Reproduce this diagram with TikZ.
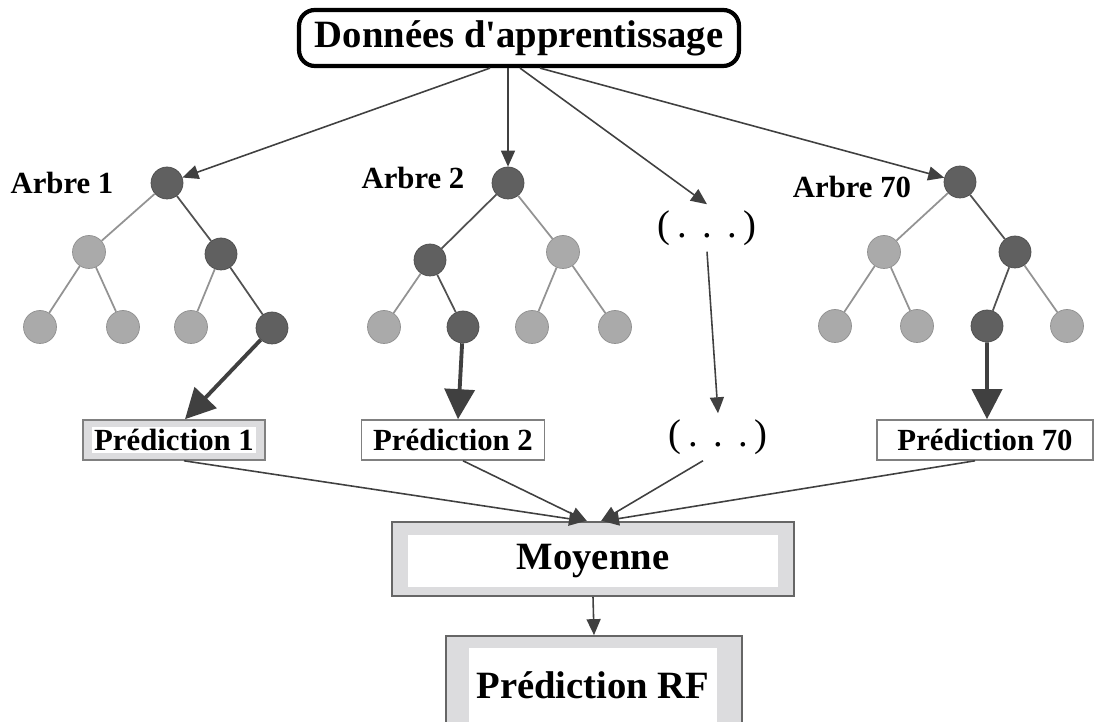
\documentclass[tikz,border=0pt]{standalone}
\usepackage{fontspec}
\setmainfont{Liberation Serif}
\usetikzlibrary{arrows.meta, positioning, calc}
\definecolor{nodedark}{RGB}{96,96,96}
\definecolor{nodelight}{RGB}{170,170,170}
\definecolor{arrowgray}{RGB}{64,64,64}
\definecolor{boxgray}{RGB}{220,220,222}
\tikzset{
    % Training data
    databox/.style={rectangle, rounded corners=9pt, draw=black, line width=2.4pt, fill=white,
                minimum width=8.8cm, minimum height=1.12cm, inner sep=1pt,
                font=\fontsize{22}{26}\selectfont\bfseries},
    % Trees
    dnode/.style={circle, draw=nodedark!80!black, fill=nodedark, minimum size=0.64cm, inner sep=0pt},
    lnode/.style={circle, draw=nodelight!85!black, fill=nodelight, minimum size=0.66cm, inner sep=0pt},
    dedge/.style={draw=nodedark!85!black, line width=1pt},
    ledge/.style={draw=gray!85, line width=1pt},
    tlabel/.style={font=\fontsize{17.5}{20}\selectfont\bfseries},
    % Predictions
    predbox/.style={rectangle, draw=gray, line width=0.9pt, fill=#1,
                minimum height=0.8cm, inner sep=1pt, font=\fontsize{17.5}{20}\selectfont\bfseries},
    dotlbl/.style={font=\fontsize{22}{26}\selectfont},
    % Aggregation
    outbox/.style={rectangle, draw=gray!80!black, line width=1pt, fill=boxgray},
    inbox/.style={rectangle, fill=white, inner sep=0pt, font=\fontsize{22}{26}\selectfont\bfseries},
    % Arrows
    tarrow/.style={-{Triangle[length=3.2mm, width=2.8mm]}, arrowgray, line width=0.9pt},
    barrow/.style={-{Triangle[length=6mm, width=6mm]}, arrowgray, line width=2.2pt},
}

\begin{document}
\begin{tikzpicture}[x=0.02cm, y=-0.02cm]
\useasboundingbox (0,0) rectangle (1095,722);

\node[databox] (data) at (519,38) {Données d\textquotesingle apprentissage};

% Tree 1
\node[tlabel] (lab1) at (62,183) {Arbre 1};
\node[dnode] (a1r)  at (167,183) {};
\node[lnode] (a1l)  at (89,252)  {};
\node[dnode] (a1d)  at (221,254) {};
\node[lnode] (a1ll) at (40,327)  {};
\node[lnode] (a1lr) at (123,327) {};
\node[lnode] (a1dl) at (191,327) {};
\node[dnode] (a1dr) at (272,328) {};
\draw[ledge] (a1r) -- (a1l);
\draw[dedge] (a1r) -- (a1d);
\draw[ledge] (a1l) -- (a1ll);
\draw[ledge] (a1l) -- (a1lr);
\draw[ledge] (a1d) -- (a1dl);
\draw[dedge] (a1d) -- (a1dr);

% Tree 2
\node[tlabel] (lab2) at (413,178) {Arbre 2};
\node[dnode] (a2r)  at (508,183) {};
\node[dnode] (a2d)  at (430,260) {};
\node[lnode] (a2l)  at (563,252) {};
\node[lnode] (a2dl) at (384,327) {};
\node[dnode] (a2dr) at (463,327) {};
\node[lnode] (a2ll) at (532,327) {};
\node[lnode] (a2lr) at (615,327) {};
\draw[dedge] (a2r) -- (a2d);
\draw[ledge] (a2r) -- (a2l);
\draw[ledge] (a2d) -- (a2dl);
\draw[dedge] (a2d) -- (a2dr);
\draw[ledge] (a2l) -- (a2ll);
\draw[ledge] (a2l) -- (a2lr);

% Tree 70
\node[tlabel] (lab70) at (852,187) {Arbre 70};
\node[dnode] (a70r)  at (960,182)  {};
\node[lnode] (a70l)  at (884,252)  {};
\node[dnode] (a70d)  at (1015,252) {};
\node[lnode] (a70ll) at (835,326)  {};
\node[lnode] (a70lr) at (917,326)  {};
\node[dnode] (a70dl) at (987,326)  {};
\node[lnode] (a70dr) at (1067,326) {};
\draw[ledge] (a70r) -- (a70l);
\draw[dedge] (a70r) -- (a70d);
\draw[ledge] (a70l) -- (a70ll);
\draw[ledge] (a70l) -- (a70lr);
\draw[dedge] (a70d) -- (a70dl);
\draw[ledge] (a70d) -- (a70dr);

% Other trees
\node[dotlbl] (dtop) at (707,228) {(\,.\hspace{0.4em}.\hspace{0.4em}.\,)};
\node[dotlbl] (dbot) at (718,437) {(\,.\hspace{0.4em}.\hspace{0.4em}.\,)};

% Predictions
\node[predbox=boxgray, minimum width=3.64cm] (p1) at (174,440) {};
\node[tlabel, fill=white, inner sep=1pt] (p1t) at (p1) {Prédiction 1};
\node[predbox=white, minimum width=3.66cm] (p2) at (453,440) {Prédiction 2};
\node[predbox=white, minimum width=4.32cm] (p70) at (985,440) {Prédiction 70};

% Average and final output
\node[outbox, minimum width=8.04cm, minimum height=1.48cm] (moy) at (593,559) {};
\node[inbox, minimum width=7.42cm, minimum height=1.04cm] (moyt) at (593,561) {Moyenne};
\node[outbox, minimum width=5.92cm, minimum height=1.88cm] (rf) at (594,683) {};
\node[inbox, minimum width=4.98cm, minimum height=1.5cm] (rft) at (593,685) {Prédiction RF};

% Arrows from data
\draw[tarrow] ([xshift=-0.58cm]data.south) -- (a1r);
\draw[tarrow] ([xshift=-0.22cm]data.south) -- (a2r);
\draw[tarrow] ([xshift=0.02cm]data.south) -- (dtop.north);
\draw[tarrow] ([xshift=0.42cm]data.south) -- (a70r);

% Leaf to prediction
\draw[barrow] (a1dr) -- ([xshift=0.22cm]p1.north);
\draw[barrow] (a2dr) -- ([xshift=0.1cm]p2.north);
\draw[barrow] (a70dl) -- ([xshift=0.04cm]p70.north);
\draw[tarrow] (dtop.south) -- (dbot.north);

% Predictions to average
\draw[tarrow] ([xshift=0.2cm]p1.south) -- ([xshift=-0.16cm]moy.north);
\draw[tarrow] ([xshift=0.2cm]p2.south) -- ([xshift=-0.12cm]moy.north);
\draw[tarrow] ([xshift=-0.3cm]dbot.south) -- ([xshift=0.16cm]moy.north);
\draw[tarrow] ([xshift=-0.2cm]p70.south) -- ([xshift=0.2cm]moy.north);
\draw[tarrow] (moy.south) -- (rf.north);
\end{tikzpicture}
\end{document}
